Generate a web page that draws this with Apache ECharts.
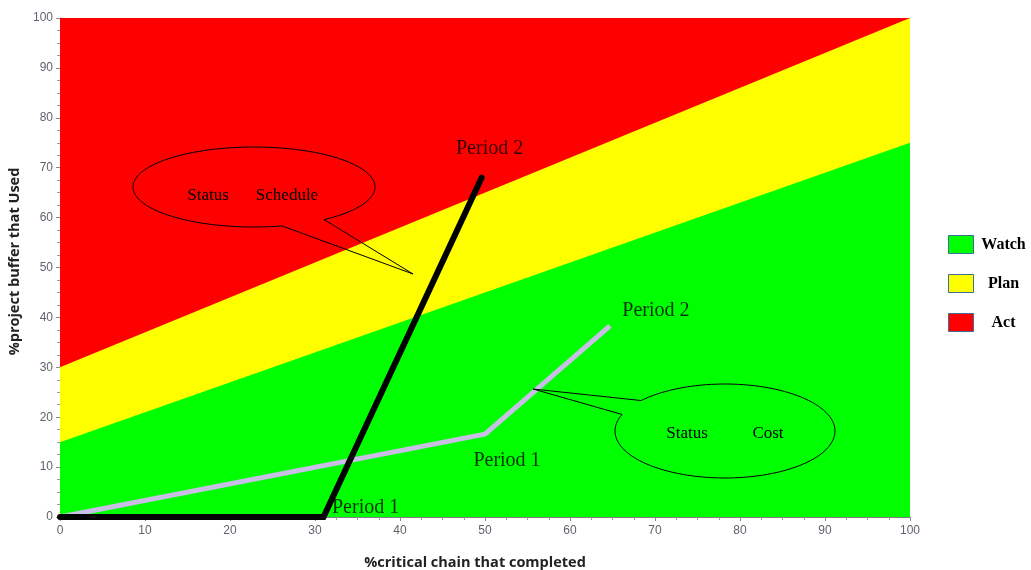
<!DOCTYPE html>
<html>
<head>
<meta charset="utf-8">
<script src="https://cdn.jsdelivr.net/npm/echarts@6/dist/echarts.min.js"></script>
<style>html,body{margin:0;padding:0;background:#fff}#c{width:1031px;height:570px}</style>
</head>
<body>
<div id="c"></div>
<script>
// Zone boundaries [x, y]
const actZone = [[0, 100], [100, 100]];
const planZone = [[0, 30], [100, 100]];
const watchZone = [[0, 15], [100, 75]];
// Status lines
const scheduleLine = [[0, 0], [31, 0], [49.6, 68]];
const costLine = [[0, 0], [50, 16.6], [64.7, 38.3]];
// Period labels
const scheduleLabels = ['', 'Period 1', 'Period 2'];
const costLabels = ['', 'Period 1', 'Period 2'];
const xTicks = [0, 10, 20, 30, 40, 50, 60, 70, 80, 90, 100];
const yTicks = [0, 10, 20, 30, 40, 50, 60, 70, 80, 90, 100];

const serif = '"Liberation Serif", "DejaVu Serif", serif';
const chart = echarts.init(document.getElementById('c'));

function labelPoints(pts, names, cfgs) {
  const out = [];
  pts.forEach((p, i) => {
    if (!names[i]) return;
    out.push({
      value: p,
      label: Object.assign({show: true, formatter: names[i], color: '#000', fontFamily: serif, fontSize: 20}, cfgs[i])
    });
  });
  return out;
}

function callout(cx, cy, rx, ry, a0, a1, tip) {
  const pts = [];
  const start = a0 * Math.PI / 180, end = (a1 + 360) * Math.PI / 180;
  const n = 120;
  for (let i = 0; i <= n; i++) {
    const t = start + (end - start) * i / n;
    pts.push([cx + rx * Math.cos(t), cy + ry * Math.sin(t)]);
  }
  pts.push(tip);
  return {type: 'polygon', shape: {points: pts}, style: {fill: 'none', stroke: '#000', lineWidth: 1}, z: 100};
}

const axisCommon = {
  type: 'value', min: 0, max: 100, interval: 10,
  splitLine: {show: false},
  axisLine: {show: true, lineStyle: {color: '#7f7f7f', width: 1}},
  axisTick: {show: true, length: 4, lineStyle: {color: '#8a8a8a'}},
  minorTick: {show: true, splitNumber: 4, length: 3, lineStyle: {color: '#9a9a9a'}},
  axisLabel: {color: '#5f636d', fontFamily: 'Arial, "Liberation Sans", sans-serif', fontSize: 12}
};
const nameFont = {color: '#222', fontFamily: '"Open Sans", "DejaVu Sans", sans-serif', fontWeight: 'bold', fontSize: 14.5};

chart.setOption({
  animation: false,
  grid: {left: 60, right: 121, top: 18, bottom: 53, show: true, borderWidth: 0, backgroundColor: '#fff',
    containLabel: false, outerBoundsMode: 'none'},
  xAxis: Object.assign({}, axisCommon, {
    name: '%critical chain that completed', nameLocation: 'middle', nameGap: 38,
    nameTextStyle: Object.assign({}, nameFont, {padding: [0, 20, 0, 0]}),
    axisLabel: Object.assign({}, axisCommon.axisLabel, {margin: 8, customValues: xTicks})
  }),
  yAxis: Object.assign({}, axisCommon, {
    name: '%project buffer that Used', nameLocation: 'middle', nameGap: 28,
    nameTextStyle: Object.assign({}, nameFont, {padding: [0, 0, 0, 12]}),
    axisLabel: Object.assign({}, axisCommon.axisLabel, {margin: 7, customValues: yTicks})
  }),
  legend: {
    orient: 'vertical', left: 948, top: 235, padding: 0, itemWidth: 25, itemHeight: 18, itemGap: 20,
    data: ['Watch', 'Plan', 'Act'],
    icon: 'rect',
    itemStyle: {borderColor: '#3d6e97', borderWidth: 1},
    formatter: '{c|{name}}',
    textStyle: {fontFamily: serif, fontWeight: 'bold', fontSize: 16, color: '#000',
      rich: {c: {width: 50, align: 'center', fontFamily: serif, fontWeight: 'bold', fontSize: 16, color: '#000'}}}
  },
  series: [
    {name: 'Act', type: 'line', data: actZone, showSymbol: false, symbol: 'none', color: '#ff0000',
      lineStyle: {width: 0}, areaStyle: {color: '#ff0000', opacity: 1}, z: 1, silent: true},
    {name: 'Plan', type: 'line', data: planZone, showSymbol: false, symbol: 'none', color: '#ffff00',
      lineStyle: {width: 0}, areaStyle: {color: '#ffff00', opacity: 1}, z: 2, silent: true},
    {name: 'Watch', type: 'line', data: watchZone, showSymbol: false, symbol: 'none', color: '#00ff00',
      lineStyle: {width: 0}, areaStyle: {color: '#00ff00', opacity: 1}, z: 3, silent: true},
    {name: 'Cost', type: 'line', data: costLine, symbol: 'none', clip: false,
      lineStyle: {color: '#c8bee6', width: 5, cap: 'butt'}, z: 5},
    {name: 'Schedule', type: 'line', data: scheduleLine, symbol: 'none', clip: false,
      lineStyle: {color: '#000', width: 6, cap: 'round', join: 'miter'}, z: 6},
    {name: 'scheduleLabels', type: 'scatter', symbolSize: 1, itemStyle: {color: 'rgba(0,0,0,0)'}, z: 7,
      data: labelPoints(scheduleLine, scheduleLabels, [null,
        {position: 'right', distance: 8, offset: [0, -9]},
        {position: 'top', distance: 5, offset: [8, -13]}])},
    {name: 'costLabels', type: 'scatter', symbolSize: 1, itemStyle: {color: 'rgba(0,0,0,0)'}, z: 7,
      data: labelPoints(costLine, costLabels, [null,
        {position: 'bottom', distance: 5, offset: [22, 11]},
        {position: 'top', distance: 5, offset: [46, 0]}])}
  ],
  graphic: [
    callout(254, 187, 121, 40, 76.6, 54.6, [413, 274]),
    {type: 'text', x: 208, y: 196, style: {text: 'Status', font: '17px ' + serif, fill: '#000', align: 'center', verticalAlign: 'middle'}, z: 100},
    {type: 'text', x: 287, y: 196, style: {text: 'Schedule', font: '17px ' + serif, fill: '#000', align: 'center', verticalAlign: 'middle'}, z: 100},
    callout(725, 431, 110, 47, 220.4, 200.6, [533, 389]),
    {type: 'text', x: 687, y: 434, style: {text: 'Status', font: '17px ' + serif, fill: '#000', align: 'center', verticalAlign: 'middle'}, z: 100},
    {type: 'text', x: 768, y: 434, style: {text: 'Cost', font: '17px ' + serif, fill: '#000', align: 'center', verticalAlign: 'middle'}, z: 100}
  ]
});
</script>
</body>
</html>
